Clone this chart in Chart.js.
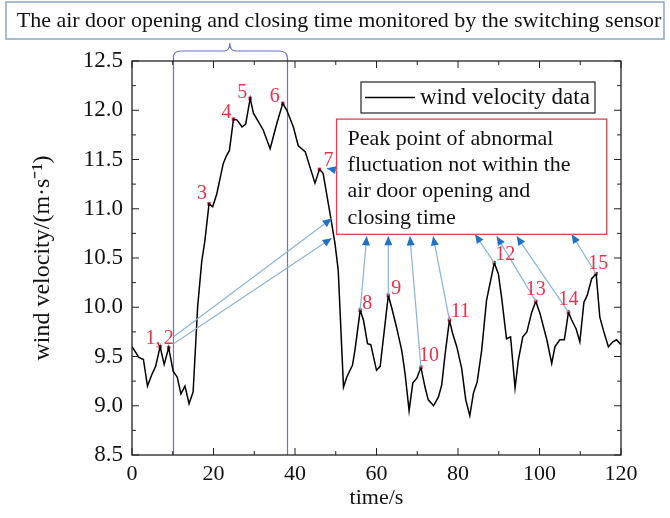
<!DOCTYPE html>
<html>
<head>
<meta charset="utf-8">
<script src="https://cdn.jsdelivr.net/npm/chart.js@4.4.0/dist/chart.umd.min.js"></script>
<style>
  html, body { margin: 0; padding: 0; background: #fff; }
  #wrap { width: 670px; height: 518px; position: relative; }
</style>
</head>
<body>
<div id="wrap"><canvas id="myChart"></canvas></div>
<script>
// wind velocity record (s, m/s)
const times = [0, 1.7, 2.8, 3.8, 4.8, 5.8, 6.9, 7.9, 9.0, 10.1, 11.1, 12, 13, 14, 15, 16.1, 17.1, 17.9, 18.9, 19.8,
  20.8, 22.4, 23.2, 23.9, 24.9, 25.8, 27, 27.9, 29, 29.8, 30.8, 32.2, 33.9, 35.5, 37, 38, 39.6, 40.8, 42.5, 44.9,
  46, 46.9, 48.6, 49.8, 50.6, 51.9, 52.7, 53.5, 54.1, 54.7, 56, 56.8, 57.8, 58.6, 60, 60.9, 62.9, 63.7, 64.9, 66.2,
  67, 68, 68.9, 69.9, 70.9, 71.9, 72.7, 74, 75.2, 76, 76.8, 77.9, 78.7, 79.7, 80.9, 81.9, 82.9, 83.8, 84.7, 85.8,
  87, 88.9, 89.9, 90.7, 91.9, 92.9, 94, 94.8, 95.9, 96.9, 98.1, 99.1, 100.1, 101.8, 103, 103.8, 105, 106.1, 107.1, 107.9,
  109, 109.9, 110.9, 111.7, 112.8, 113.9, 114.8, 115.8, 116.9, 118, 118.9, 120]
const velocity = [9.6, 9.49, 9.47, 9.2, 9.31, 9.4, 9.6, 9.42, 9.59, 9.35, 9.29, 9.12, 9.2, 9.02, 9.14, 10.0, 10.46, 10.68, 11.05, 11.02,
  11.15, 11.46, 11.54, 11.59, 11.91, 11.9, 11.83, 11.86, 12.12, 11.97, 11.9, 11.8, 11.61, 11.86, 12.07, 12.0, 11.83, 11.64, 11.58, 11.26,
  11.4, 11.36, 10.95, 10.65, 10.38, 9.19, 9.29, 9.36, 9.41, 9.56, 9.97, 9.87, 9.63, 9.62, 9.36, 9.4, 10.12, 10.0, 9.8, 9.56,
  9.33, 8.95, 9.23, 9.28, 9.39, 9.19, 9.06, 9.0, 9.09, 9.21, 9.51, 9.87, 9.73, 9.6, 9.38, 9.06, 8.9, 9.13, 9.24, 9.56,
  10.07, 10.45, 10.34, 10.1, 9.68, 9.7, 9.18, 9.46, 9.7, 9.75, 9.95, 10.06, 9.94, 9.67, 9.43, 9.6, 9.67, 9.67, 9.95, 9.87,
  9.78, 9.65, 10.05, 10.12, 10.29, 10.34, 9.9, 9.75, 9.6, 9.65, 9.67, 9.62]

// marked peaks
const peakTimes = [6.9, 9.0, 18.9, 24.9, 29, 37, 46, 56, 62.9, 70.9, 77.9, 88.9, 99.1, 107.1, 113.9]
const peakValues = [9.6, 9.59, 11.05, 11.91, 12.12, 12.07, 11.4, 9.97, 10.12, 9.39, 9.87, 10.45, 10.06, 9.95, 10.34]
const peakLabels = ['1,', '2', '3', '4', '5', '6', '7', '8', '9', '10', '11', '12', '13', '14', '15']

// switching sensor: door open / close time
const doorTimes = [10, 38]

const xTicks = [0, 20, 40, 60, 80, 100, 120]
const yTicks = [8.5, 9.0, 9.5, 10.0, 10.5, 11.0, 11.5, 12.0, 12.5]

const seriesName = 'wind velocity data'
const topNote = 'The air door opening and closing time monitored by the switching sensor'
const boxNote = ['Peak point of abnormal', 'fluctuation not within the', 'air door opening and', 'closing time']

const FONT = "'Liberation Serif', 'Times New Roman', serif"
const RED = '#e3344c'

// label offsets (px) next to each peak
const labelOff = [[-7,-8],[0,-9],[-7,-10],[-7,-6],[-8,-6],[-8,-7],[9,-9],[7,-6],[8,-7],[8,-12],[11,-8],[11,-8],[0,-12],[0,-12],[2,-10]]

// annotation box and arrows, in data units
const note = { x0: 50.2, x1: 116.5, y0: 11.91, y1: 10.74 }
const arrows = [
  { from: [10.2, 9.70], to: [49.0, 10.90] },
  { from: [10.2, 9.63], to: [49.0, 10.70] },
  { from: [50.2, 11.39], to: [47.8, 11.41] },
  { from: [56.0, 9.97], to: [57.6, 10.72] },
  { from: [62.9, 10.12], to: [62.9, 10.72] },
  { from: [70.9, 9.39], to: [68.2, 10.72] },
  { from: [77.9, 9.87], to: [73.9, 10.72] },
  { from: [88.9, 10.45], to: [84.2, 10.74] },
  { from: [99.1, 10.06], to: [89.5, 10.72] },
  { from: [107.1, 9.95], to: [94.4, 10.72] },
  { from: [113.9, 10.34], to: [107.9, 10.74] },
]

function arrow(c, x1, y1, x2, y2) {
  c.strokeStyle = '#8ab4d4'
  c.lineWidth = 1.2
  c.beginPath(); c.moveTo(x1, y1); c.lineTo(x2, y2); c.stroke()
  const a = Math.atan2(y2 - y1, x2 - x1)
  const L = 9, W = 4
  c.fillStyle = '#1f72c4'
  c.beginPath()
  c.moveTo(x2, y2)
  c.lineTo(x2 - L * Math.cos(a) + W * Math.sin(a), y2 - L * Math.sin(a) - W * Math.cos(a))
  c.lineTo(x2 - L * Math.cos(a) - W * Math.sin(a), y2 - L * Math.sin(a) + W * Math.cos(a))
  c.closePath(); c.fill()
}

const decor = {
  id: 'decor',
  beforeDatasetsDraw(chart) {
    const c = chart.ctx, a = chart.chartArea, xs = chart.scales.x
    c.save()
    c.strokeStyle = '#6f6fd6'
    c.lineWidth = 1.2
    doorTimes.forEach(t => {
      const px = Math.round(xs.getPixelForValue(t)) + 0.5
      c.beginPath(); c.moveTo(px, a.top - 3); c.lineTo(px, a.bottom); c.stroke()
    })
    // brace over the door interval
    const b0 = xs.getPixelForValue(doorTimes[0]), b1 = xs.getPixelForValue(doorTimes[1])
    const mid = (b0 + b1) / 2, yb = a.top - 10, yt = a.top - 18
    c.beginPath()
    c.moveTo(b0 + 0.5, a.top - 3)
    c.quadraticCurveTo(b0 + 0.5, yb, b0 + 8, yb)
    c.lineTo(mid - 6, yb)
    c.quadraticCurveTo(mid, yb, mid, yt)
    c.quadraticCurveTo(mid, yb, mid + 6, yb)
    c.lineTo(b1 - 8, yb)
    c.quadraticCurveTo(b1 + 0.5, yb, b1 + 0.5, a.top - 3)
    c.stroke()
    c.restore()
  },
  afterDatasetsDraw(chart) {
    const c = chart.ctx, a = chart.chartArea, xs = chart.scales.x, ys = chart.scales.y
    c.save()
    // frame
    c.strokeStyle = '#222'
    c.lineWidth = 1.3
    c.strokeRect(a.left, a.top, a.right - a.left, a.bottom - a.top)
    // inward ticks on all four sides
    c.lineWidth = 1
    for (let v = 0; v <= 120; v += 10) {
      const px = xs.getPixelForValue(v), len = v % 20 === 0 ? 7 : 4
      c.beginPath(); c.moveTo(px, a.bottom); c.lineTo(px, a.bottom - len)
      c.moveTo(px, a.top); c.lineTo(px, a.top + len); c.stroke()
    }
    for (let v = 8.5; v <= 12.5001; v += 0.25) {
      const py = ys.getPixelForValue(v), len = Math.abs(v * 2 - Math.round(v * 2)) < 0.01 ? 7 : 4
      c.beginPath(); c.moveTo(a.left, py); c.lineTo(a.left + len, py)
      c.moveTo(a.right, py); c.lineTo(a.right - len, py); c.stroke()
    }
    // annotation box
    const bx0 = xs.getPixelForValue(note.x0), bx1 = xs.getPixelForValue(note.x1)
    const by0 = ys.getPixelForValue(note.y0), by1 = ys.getPixelForValue(note.y1)
    c.fillStyle = '#fff'
    c.fillRect(bx0, by0, bx1 - bx0, by1 - by0)
    c.strokeStyle = '#e5404f'
    c.lineWidth = 1.3
    c.strokeRect(bx0, by0, bx1 - bx0, by1 - by0)
    c.fillStyle = '#111'
    c.font = '22px ' + FONT
    c.textBaseline = 'middle'
    c.textAlign = 'left'
    boxNote.forEach((s, i) => c.fillText(s, bx0 + 11, by0 + 20 + i * 26.3))
    // arrows
    arrows.forEach(r => arrow(c, xs.getPixelForValue(r.from[0]), ys.getPixelForValue(r.from[1]),
      xs.getPixelForValue(r.to[0]), ys.getPixelForValue(r.to[1])))
    // peak labels
    c.fillStyle = RED
    c.font = '20px ' + FONT
    c.textAlign = 'center'
    peakTimes.forEach((t, i) => {
      const px = xs.getPixelForValue(t), py = ys.getPixelForValue(peakValues[i])
      c.fillText(peakLabels[i], px + labelOff[i][0], py + labelOff[i][1])
    })
    // legend
    c.fillStyle = '#fff'
    c.fillRect(361, 82, 234, 31)
    c.strokeStyle = '#222'
    c.lineWidth = 1.2
    c.strokeRect(361, 82, 234, 31)
    c.strokeStyle = '#000'
    c.lineWidth = 1.5
    c.beginPath(); c.moveTo(365, 97.5); c.lineTo(415, 97.5); c.stroke()
    c.fillStyle = '#111'
    c.font = '23px ' + FONT
    c.textAlign = 'left'
    c.fillText(seriesName, 420, 98)
    // top note box
    c.strokeStyle = '#8aa5c2'
    c.lineWidth = 1.5
    c.strokeRect(6, 2, 658, 37)
    c.font = '22px ' + FONT
    c.textAlign = 'center'
    c.fillText(topNote, 339, 21)
    c.restore()
  }
}

const ctx = document.getElementById('myChart').getContext('2d')
const data = {
  datasets: [
    {
      label: seriesName,
      data: times.map((t, i) => ({ x: t, y: velocity[i] })),
      borderColor: '#000',
      backgroundColor: '#000',
      borderWidth: 1.5,
      pointRadius: 0,
      tension: 0,
    },
    {
      label: 'peaks',
      data: peakTimes.map((t, i) => ({ x: t, y: peakValues[i] })),
      showLine: false,
      pointStyle: 'rect',
      pointRadius: 2.5,
      backgroundColor: RED,
      borderColor: RED,
      borderWidth: 0,
    },
  ],
}

const tickFont = { family: FONT, size: 22 }
const config = {
  type: 'line',
  data: data,
  plugins: [decor],
  options: {
    responsive: false,
    animation: false,
    layout: { padding: { top: 61, right: 49, left: 0, bottom: 0 } },
    plugins: { legend: { display: false }, tooltip: { enabled: false } },
    scales: {
      x: {
        type: 'linear', min: 0, max: 120,
        afterBuildTicks: s => { s.ticks = xTicks.map(v => ({ value: v })) },
        afterFit: s => { s.height = 63 },
        grid: { display: false, drawTicks: false },
        border: { display: false },
        ticks: { font: tickFont, color: '#111', padding: 6, maxRotation: 0 },
        title: { display: true, text: 'time/s', font: tickFont, color: '#111', padding: { top: 0, bottom: 7 } },
      },
      y: {
        type: 'linear', min: 8.5, max: 12.5,
        afterBuildTicks: s => { s.ticks = yTicks.map(v => ({ value: v })) },
        afterFit: s => { s.width = 132 },
        grid: { display: false, drawTicks: false },
        border: { display: false },
        ticks: { font: { family: FONT, size: 23 }, color: '#111', padding: 9, callback: v => v.toFixed(1) },
        title: { display: true, text: 'wind velocity/(m·s⁻¹)', font: { family: FONT, size: 24 }, color: '#111', padding: { top: 28, bottom: 0 } },
      },
    },
  },
}

const cv = document.getElementById('myChart')
cv.width = 670
cv.height = 518
const windChart = new Chart(ctx, config)
</script>
</body>
</html>
